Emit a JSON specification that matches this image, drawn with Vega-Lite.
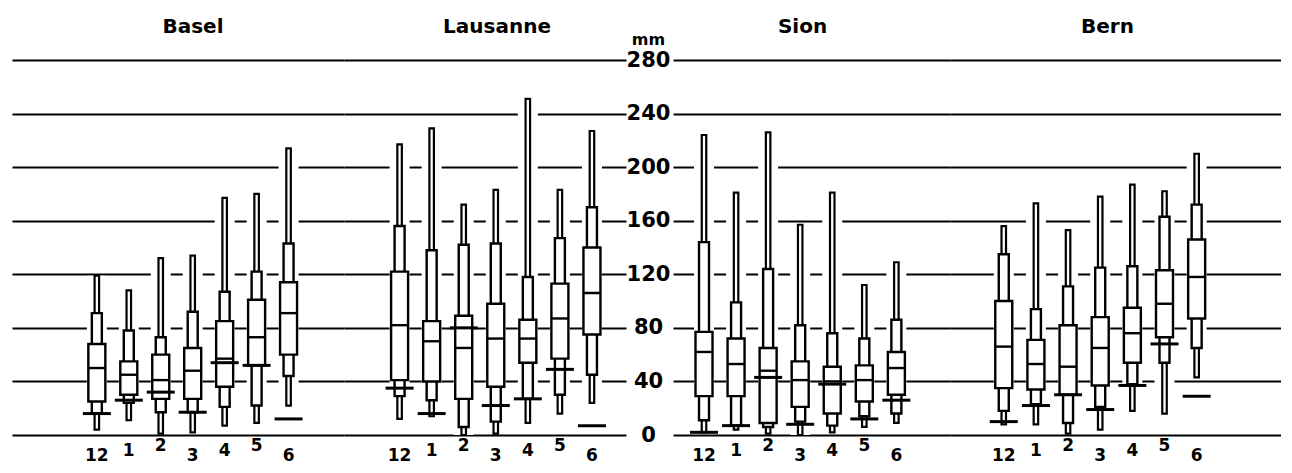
{
  "$schema": "https://vega.github.io/schema/vega-lite/v6.json",
  "background": "white",
  "padding": {"left": 12, "top": 17, "right": 0, "bottom": 0},
  "spacing": 0,
  "config": {
    "view": {"stroke": null},
    "font": "DejaVu Sans",
    "axis": {"domain": false, "ticks": false, "tickSize": 0, "gridColor": "black", "gridWidth": 2.2, "gridOpacity": 1, "labelColor": "black", "labelFont": "DejaVu Sans", "labelFontWeight": "bold", "titleColor": "black", "titleFont": "DejaVu Sans"},
    "axisX": {"title": null, "labelAngle": 0, "labelFontSize": 17, "labelBaseline": "top", "grid": false, "labelExpr": "datum.label == 'L' || datum.label == 'R' ? '' : datum.label", "labelPadding": {"condition": [{"test": "datum.label == '2' || datum.label == '5'", "value": 2}, {"test": "datum.label == '1' || datum.label == '4'", "value": 7}], "value": 12}},
    "title": {"fontSize": 20, "fontWeight": "bold", "font": "DejaVu Sans", "color": "black"}
  },
  "data": {"values": [
    {"station": "Basel", "month": "12", "min": 4, "p10": 16, "q1": 25, "med": 50, "q3": 68, "p90": 91, "max": 119, "tick": 16},
    {"station": "Basel", "month": "1", "min": 11, "p10": 24, "q1": 30, "med": 45, "q3": 55, "p90": 78, "max": 108, "tick": 26},
    {"station": "Basel", "month": "2", "min": 1, "p10": 17, "q1": 27, "med": 41, "q3": 60, "p90": 73, "max": 132, "tick": 32},
    {"station": "Basel", "month": "3", "min": 2, "p10": 17, "q1": 27, "med": 48, "q3": 65, "p90": 92, "max": 134, "tick": 17},
    {"station": "Basel", "month": "4", "min": 7, "p10": 21, "q1": 36, "med": 57, "q3": 85, "p90": 107, "max": 177, "tick": 54},
    {"station": "Basel", "month": "5", "min": 9, "p10": 22, "q1": 52, "med": 73, "q3": 101, "p90": 122, "max": 180, "tick": 52},
    {"station": "Basel", "month": "6", "min": 22, "p10": 44, "q1": 60, "med": 91, "q3": 114, "p90": 143, "max": 214, "tick": 12},
    {"station": "Lausanne", "month": "12", "min": 12, "p10": 29, "q1": 41, "med": 82, "q3": 122, "p90": 156, "max": 217, "tick": 35},
    {"station": "Lausanne", "month": "1", "min": 14, "p10": 26, "q1": 40, "med": 70, "q3": 85, "p90": 138, "max": 229, "tick": 16},
    {"station": "Lausanne", "month": "2", "min": 0, "p10": 6, "q1": 27, "med": 65, "q3": 89, "p90": 142, "max": 172, "tick": 80},
    {"station": "Lausanne", "month": "3", "min": 1, "p10": 10, "q1": 36, "med": 72, "q3": 98, "p90": 143, "max": 183, "tick": 22},
    {"station": "Lausanne", "month": "4", "min": 9, "p10": 27, "q1": 54, "med": 72, "q3": 86, "p90": 118, "max": 251, "tick": 27},
    {"station": "Lausanne", "month": "5", "min": 16, "p10": 30, "q1": 57, "med": 87, "q3": 113, "p90": 147, "max": 183, "tick": 49},
    {"station": "Lausanne", "month": "6", "min": 24, "p10": 45, "q1": 75, "med": 106, "q3": 140, "p90": 170, "max": 227, "tick": 7},
    {"station": "Sion", "month": "12", "min": 2, "p10": 11, "q1": 29, "med": 62, "q3": 77, "p90": 144, "max": 224, "tick": 2},
    {"station": "Sion", "month": "1", "min": 4, "p10": 7, "q1": 29, "med": 53, "q3": 72, "p90": 99, "max": 181, "tick": 7},
    {"station": "Sion", "month": "2", "min": 1, "p10": 6, "q1": 9, "med": 48, "q3": 65, "p90": 124, "max": 226, "tick": 43},
    {"station": "Sion", "month": "3", "min": 0, "p10": 10, "q1": 21, "med": 41, "q3": 55, "p90": 82, "max": 157, "tick": 8},
    {"station": "Sion", "month": "4", "min": 2, "p10": 7, "q1": 16, "med": 40, "q3": 51, "p90": 76, "max": 181, "tick": 38},
    {"station": "Sion", "month": "5", "min": 6, "p10": 14, "q1": 25, "med": 41, "q3": 52, "p90": 72, "max": 112, "tick": 12},
    {"station": "Sion", "month": "6", "min": 9, "p10": 16, "q1": 30, "med": 50, "q3": 62, "p90": 86, "max": 129, "tick": 26},
    {"station": "Bern", "month": "12", "min": 8, "p10": 18, "q1": 35, "med": 66, "q3": 100, "p90": 135, "max": 156, "tick": 10},
    {"station": "Bern", "month": "1", "min": 8, "p10": 23, "q1": 34, "med": 53, "q3": 71, "p90": 94, "max": 173, "tick": 22},
    {"station": "Bern", "month": "2", "min": 1, "p10": 9, "q1": 30, "med": 51, "q3": 82, "p90": 111, "max": 153, "tick": 30},
    {"station": "Bern", "month": "3", "min": 4, "p10": 21, "q1": 37, "med": 65, "q3": 88, "p90": 125, "max": 178, "tick": 19},
    {"station": "Bern", "month": "4", "min": 18, "p10": 38, "q1": 54, "med": 76, "q3": 95, "p90": 126, "max": 187, "tick": 37},
    {"station": "Bern", "month": "5", "min": 16, "p10": 54, "q1": 73, "med": 98, "q3": 123, "p90": 163, "max": 182, "tick": 68},
    {"station": "Bern", "month": "6", "min": 43, "p10": 65, "q1": 87, "med": 118, "q3": 146, "p90": 172, "max": 210, "tick": 29}
  ]},
  "hconcat": [
    {
      "title": {"text": "Basel", "offset": 23, "dx": 15},
      "width": 332, "height": 375,
      "transform": [{"filter": "datum.station == 'Basel'"}],
      "encoding": {"x": {"field": "month", "type": "ordinal", "scale": {"domain": ["L","12","1","2","3","4","5","6","R"], "paddingInner": 0, "paddingOuter": 0.695, "align": 0.831}}},
      "layer": [
        {"mark": {"type": "bar", "width": 20, "color": "white"}, "encoding": {"y": {"field": "min", "type": "quantitative", "scale": {"domain": [0, 280], "nice": false}, "axis": {"values": [0,40,80,120,160,200,240,280], "labels": false, "grid": true, "title": null}}, "y2": {"field": "max"}}},
        {"mark": {"type": "bar", "width": 4.5, "fill": "white", "stroke": "black", "strokeWidth": 2.2}, "encoding": {"y": {"field": "min", "type": "quantitative", "axis": {"values": [0,40,80,120,160,200,240,280], "labels": false, "grid": true, "title": null}}, "y2": {"field": "max"}}},
        {"mark": {"type": "bar", "width": 10, "fill": "white", "stroke": "black", "strokeWidth": 2.4}, "encoding": {"y": {"field": "p10", "type": "quantitative", "axis": {"values": [0,40,80,120,160,200,240,280], "labels": false, "grid": true, "title": null}}, "y2": {"field": "p90"}}},
        {"mark": {"type": "bar", "width": 17, "fill": "white", "stroke": "black", "strokeWidth": 2.4}, "encoding": {"y": {"field": "q1", "type": "quantitative", "axis": {"values": [0,40,80,120,160,200,240,280], "labels": false, "grid": true, "title": null}}, "y2": {"field": "q3"}}},
        {"mark": {"type": "tick", "size": 17, "thickness": 2.4, "color": "black", "orient": "horizontal", "opacity": 1}, "encoding": {"y": {"field": "med", "type": "quantitative", "axis": {"values": [0,40,80,120,160,200,240,280], "labels": false, "grid": true, "title": null}}}},
        {"mark": {"type": "tick", "size": 28, "thickness": 3, "color": "black", "orient": "horizontal", "opacity": 1}, "encoding": {"y": {"field": "tick", "type": "quantitative", "axis": {"values": [0,40,80,120,160,200,240,280], "labels": false, "grid": true, "title": null}}}}
      ]
    },
    {
      "title": {"text": "Lausanne", "offset": 23, "dx": 12},
      "width": 282, "height": 375,
      "transform": [{"filter": "datum.station == 'Lausanne'"}],
      "encoding": {"x": {"field": "month", "type": "ordinal", "scale": {"domain": ["L","12","1","2","3","4","5","6"], "paddingInner": 0, "paddingOuter": 0.398, "align": 0.294}}},
      "layer": [
        {"mark": {"type": "bar", "width": 20, "color": "white"}, "encoding": {"y": {"field": "min", "type": "quantitative", "scale": {"domain": [0, 280], "nice": false}, "axis": {"values": [0,40,80,120,160,200,240,280], "labels": false, "grid": true, "title": null}}, "y2": {"field": "max"}}},
        {"mark": {"type": "bar", "width": 4.5, "fill": "white", "stroke": "black", "strokeWidth": 2.2}, "encoding": {"y": {"field": "min", "type": "quantitative", "axis": {"values": [0,40,80,120,160,200,240,280], "labels": false, "grid": true, "title": null}}, "y2": {"field": "max"}}},
        {"mark": {"type": "bar", "width": 10, "fill": "white", "stroke": "black", "strokeWidth": 2.4}, "encoding": {"y": {"field": "p10", "type": "quantitative", "axis": {"values": [0,40,80,120,160,200,240,280], "labels": false, "grid": true, "title": null}}, "y2": {"field": "p90"}}},
        {"mark": {"type": "bar", "width": 17, "fill": "white", "stroke": "black", "strokeWidth": 2.4}, "encoding": {"y": {"field": "q1", "type": "quantitative", "axis": {"values": [0,40,80,120,160,200,240,280], "labels": false, "grid": true, "title": null}}, "y2": {"field": "q3"}}},
        {"mark": {"type": "tick", "size": 17, "thickness": 2.4, "color": "black", "orient": "horizontal", "opacity": 1}, "encoding": {"y": {"field": "med", "type": "quantitative", "axis": {"values": [0,40,80,120,160,200,240,280], "labels": false, "grid": true, "title": null}}}},
        {"mark": {"type": "tick", "size": 28, "thickness": 3, "color": "black", "orient": "horizontal", "opacity": 1}, "encoding": {"y": {"field": "tick", "type": "quantitative", "axis": {"values": [0,40,80,120,160,200,240,280], "labels": false, "grid": true, "title": null}}}}
      ]
    },
    {
      "title": {"text": "Sion", "offset": -6, "dx": -9},
      "width": 277, "height": 375,
      "transform": [{"filter": "datum.station == 'Sion'"}],
      "encoding": {"x": {"field": "month", "type": "ordinal", "scale": {"domain": ["12","1","2","3","4","5","6","R"], "paddingInner": 0, "paddingOuter": 0.32, "align": 0.73}}},
      "layer": [
        {"mark": {"type": "bar", "width": 20, "color": "white"}, "encoding": {"y": {"field": "min", "type": "quantitative", "scale": {"domain": [0, 280], "nice": false}, "axis": {"values": [0,40,80,120,160,200,240,280], "labels": true, "labelAlign": "center", "labelBaseline": "middle", "labelPadding": 25, "labelFontSize": 21, "labelFlush": false, "labelOverlap": false, "labelBound": false, "grid": true, "title": "mm", "titleAngle": 0, "titleAlign": "center", "titleBaseline": "middle", "titleX": -25, "titleY": -21, "titleFontSize": 16, "titleFontWeight": "bold", "titlePadding": 0}}, "y2": {"field": "max"}}},
        {"mark": {"type": "bar", "width": 4.5, "fill": "white", "stroke": "black", "strokeWidth": 2.2}, "encoding": {"y": {"field": "min", "type": "quantitative", "axis": {"values": [0,40,80,120,160,200,240,280], "labels": true, "labelAlign": "center", "labelBaseline": "middle", "labelPadding": 25, "labelFontSize": 21, "labelFlush": false, "labelOverlap": false, "labelBound": false, "grid": true, "title": "mm", "titleAngle": 0, "titleAlign": "center", "titleBaseline": "middle", "titleX": -25, "titleY": -21, "titleFontSize": 16, "titleFontWeight": "bold", "titlePadding": 0}}, "y2": {"field": "max"}}},
        {"mark": {"type": "bar", "width": 10, "fill": "white", "stroke": "black", "strokeWidth": 2.4}, "encoding": {"y": {"field": "p10", "type": "quantitative", "axis": {"values": [0,40,80,120,160,200,240,280], "labels": true, "labelAlign": "center", "labelBaseline": "middle", "labelPadding": 25, "labelFontSize": 21, "labelFlush": false, "labelOverlap": false, "labelBound": false, "grid": true, "title": "mm", "titleAngle": 0, "titleAlign": "center", "titleBaseline": "middle", "titleX": -25, "titleY": -21, "titleFontSize": 16, "titleFontWeight": "bold", "titlePadding": 0}}, "y2": {"field": "p90"}}},
        {"mark": {"type": "bar", "width": 17, "fill": "white", "stroke": "black", "strokeWidth": 2.4}, "encoding": {"y": {"field": "q1", "type": "quantitative", "axis": {"values": [0,40,80,120,160,200,240,280], "labels": true, "labelAlign": "center", "labelBaseline": "middle", "labelPadding": 25, "labelFontSize": 21, "labelFlush": false, "labelOverlap": false, "labelBound": false, "grid": true, "title": "mm", "titleAngle": 0, "titleAlign": "center", "titleBaseline": "middle", "titleX": -25, "titleY": -21, "titleFontSize": 16, "titleFontWeight": "bold", "titlePadding": 0}}, "y2": {"field": "q3"}}},
        {"mark": {"type": "tick", "size": 17, "thickness": 2.4, "color": "black", "orient": "horizontal", "opacity": 1}, "encoding": {"y": {"field": "med", "type": "quantitative", "axis": {"values": [0,40,80,120,160,200,240,280], "labels": true, "labelAlign": "center", "labelBaseline": "middle", "labelPadding": 25, "labelFontSize": 21, "labelFlush": false, "labelOverlap": false, "labelBound": false, "grid": true, "title": "mm", "titleAngle": 0, "titleAlign": "center", "titleBaseline": "middle", "titleX": -25, "titleY": -21, "titleFontSize": 16, "titleFontWeight": "bold", "titlePadding": 0}}}},
        {"mark": {"type": "tick", "size": 28, "thickness": 3, "color": "black", "orient": "horizontal", "opacity": 1}, "encoding": {"y": {"field": "tick", "type": "quantitative", "axis": {"values": [0,40,80,120,160,200,240,280], "labels": true, "labelAlign": "center", "labelBaseline": "middle", "labelPadding": 25, "labelFontSize": 21, "labelFlush": false, "labelOverlap": false, "labelBound": false, "grid": true, "title": "mm", "titleAngle": 0, "titleAlign": "center", "titleBaseline": "middle", "titleX": -25, "titleY": -21, "titleFontSize": 16, "titleFontWeight": "bold", "titlePadding": 0}}}}
      ]
    },
    {
      "title": {"text": "Bern", "offset": 23, "dx": -8},
      "width": 331, "height": 375,
      "transform": [{"filter": "datum.station == 'Bern'"}],
      "encoding": {"x": {"field": "month", "type": "ordinal", "scale": {"domain": ["L","12","1","2","3","4","5","6","R"], "paddingInner": 0, "paddingOuter": 0.648, "align": 0.133}}},
      "layer": [
        {"mark": {"type": "bar", "width": 20, "color": "white"}, "encoding": {"y": {"field": "min", "type": "quantitative", "scale": {"domain": [0, 280], "nice": false}, "axis": {"values": [0,40,80,120,160,200,240,280], "labels": false, "grid": true, "title": null}}, "y2": {"field": "max"}}},
        {"mark": {"type": "bar", "width": 4.5, "fill": "white", "stroke": "black", "strokeWidth": 2.2}, "encoding": {"y": {"field": "min", "type": "quantitative", "axis": {"values": [0,40,80,120,160,200,240,280], "labels": false, "grid": true, "title": null}}, "y2": {"field": "max"}}},
        {"mark": {"type": "bar", "width": 10, "fill": "white", "stroke": "black", "strokeWidth": 2.4}, "encoding": {"y": {"field": "p10", "type": "quantitative", "axis": {"values": [0,40,80,120,160,200,240,280], "labels": false, "grid": true, "title": null}}, "y2": {"field": "p90"}}},
        {"mark": {"type": "bar", "width": 17, "fill": "white", "stroke": "black", "strokeWidth": 2.4}, "encoding": {"y": {"field": "q1", "type": "quantitative", "axis": {"values": [0,40,80,120,160,200,240,280], "labels": false, "grid": true, "title": null}}, "y2": {"field": "q3"}}},
        {"mark": {"type": "tick", "size": 17, "thickness": 2.4, "color": "black", "orient": "horizontal", "opacity": 1}, "encoding": {"y": {"field": "med", "type": "quantitative", "axis": {"values": [0,40,80,120,160,200,240,280], "labels": false, "grid": true, "title": null}}}},
        {"mark": {"type": "tick", "size": 28, "thickness": 3, "color": "black", "orient": "horizontal", "opacity": 1}, "encoding": {"y": {"field": "tick", "type": "quantitative", "axis": {"values": [0,40,80,120,160,200,240,280], "labels": false, "grid": true, "title": null}}}}
      ]
    }
  ]
}
